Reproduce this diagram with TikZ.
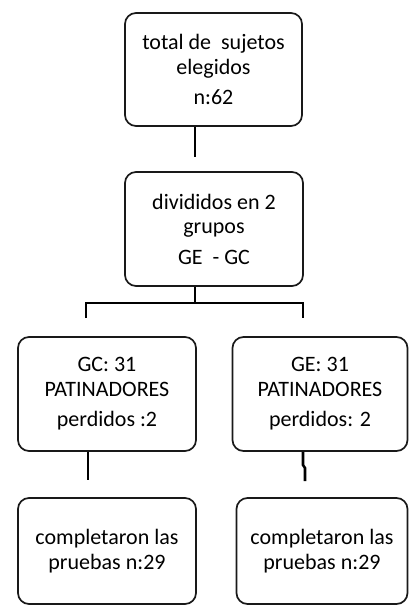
\documentclass[tikz,border=0pt]{standalone}
\usepackage{fontspec}
\setmainfont{Carlito}
\tikzset{
  caja/.style={draw=black!90, line width=1.7pt, rounded corners=11pt, fill=white,
    align=center, inner sep=0pt, font=\fontsize{22}{24.5}\selectfont},
  linea/.style={line width=2.6pt, black}
}
\begin{document}
\begin{tikzpicture}[x=1pt,y=-1pt]
    \useasboundingbox (0,0) rectangle (409,608);

    \node[caja, minimum width=177pt, minimum height=113pt] (total) at (213.5,69.5) {total de\ \ sujetos\\elegidos\\[6pt]n:62};
    \node[caja, minimum width=178pt, minimum height=114pt] (grupos) at (214,229) {divididos en 2\\grupos\\[6pt]GE\ \ - GC};
    \node[caja, minimum width=178pt, minimum height=114pt] (gc) at (107,394) {GC: 31\\PATINADORES\\[6pt]perdidos :2};
    \node[caja, minimum width=175pt, minimum height=114pt] (ge) at (320,394) {GE: 31\\PATINADORES\\[6pt]perdidos: 2};
    \node[caja, minimum width=178pt, minimum height=106pt] (compgc) at (107,551) {completaron las\\pruebas n:29};
    \node[caja, minimum width=171pt, minimum height=106pt] (compge) at (322,551) {completaron las\\pruebas n:29};

    \coordinate (c1) at (195,157);
    \coordinate (fork) at (195,303);
    \coordinate (gcend) at (86,318);
    \coordinate (geend) at (303,318);
    \coordinate (c3) at (88,480);
    \coordinate (c4) at (305,481);

    \draw[linea] (total.south -| c1) -- (c1);
    \draw[linea] (grupos.south -| fork) -- (fork);
    \draw[linea] (gcend) -- (gcend |- fork) -- (geend |- fork) -- (geend);
    \draw[linea] (gc.south -| c3) -- (c3);
    \draw[linea] (ge.south -| 303,0) -- (303,465) -- (305,468) -- (c4);
\end{tikzpicture}
\end{document}
